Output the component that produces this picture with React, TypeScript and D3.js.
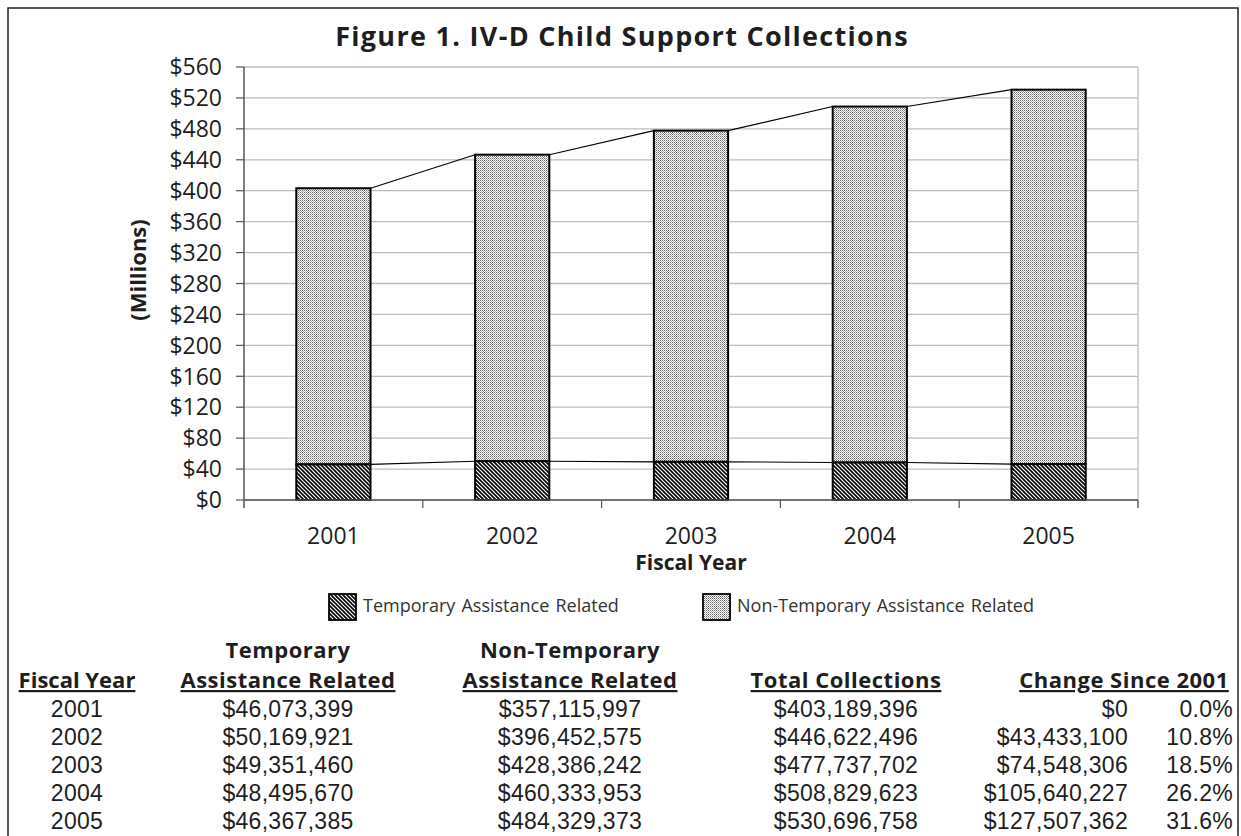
import React from "react";
import * as d3 from "d3";

const years = ["2001", "2002", "2003", "2004", "2005"];
const temporary = [46073399, 50169921, 49351460, 48495670, 46367385];
const nonTemporary = [357115997, 396452575, 428386242, 460333953, 484329373];
const totals = [403189396, 446622496, 477737702, 508829623, 530696758];
const changeAmounts = ["$0", "$43,433,100", "$74,548,306", "$105,640,227", "$127,507,362"];
const changePct = ["0.0%", "10.8%", "18.5%", "26.2%", "31.6%"];
const yTicks = d3.range(0, 561, 40);

const W = 1241;
const H = 836;
const margin = { top: 67, right: 103, bottom: 336, left: 244 };
const FONT = "'Open Sans', 'DejaVu Sans', sans-serif";
const TABLE_FONT = "'Liberation Sans', Arial, sans-serif";
const INK = "#1e1e1e";

export default function App() {
  const x = d3.scaleBand().domain(years).range([margin.left, W - margin.right]);
  const y = d3.scaleLinear().domain([0, 560]).range([H - margin.bottom, margin.top]);
  const barW = x.bandwidth() * 0.415;
  const bx = (yr: string) => (x(yr) as number) + (x.bandwidth() - barW) / 2;
  const m = (v: number) => v / 1e6;

  const fmt = d3.format("$,");
  const stacks = years.map((yr, i) => ({
    yr,
    t: m(temporary[i]),
    tot: m(temporary[i] + nonTemporary[i]),
  }));

  // excel style series lines joining the bar tops
  const seriesLines = (key: "t" | "tot") =>
    stacks.slice(0, -1).map((s, i) => {
      const n = stacks[i + 1];
      return (
        <line key={key + i} x1={bx(s.yr) + barW} y1={y(s[key])} x2={bx(n.yr)} y2={y(n[key])}
          stroke="#000" strokeWidth={1.1} />
      );
    });

  const rowBase = [717, 745, 773, 801, 829];
  const tx = { fy: 77, temp: 288, non: 570, tot: 846, chg: 1128, pct: 1233 };

  return (
    <svg width={W} height={H} style={{ position: "absolute", left: 0, top: 0, background: "#fff" }}
      fontFamily={FONT}>
      <defs>
        <pattern id="dots" width="2" height="2" patternUnits="userSpaceOnUse">
          <rect width="2" height="2" fill="#fff" />
          <rect width="1" height="1" fill="#666" />
          <rect x="1" y="1" width="1" height="1" fill="#aaa" />
        </pattern>
        <pattern id="hatch" width="4" height="4" patternUnits="userSpaceOnUse">
          <rect width="4" height="4" fill="#fff" />
          <path d="M-1,-1 L5,5 M-1,3 L1,5 M3,-1 L5,1" stroke="#000" strokeWidth="1.6" />
        </pattern>
      </defs>
      <rect x={8} y={8} width={1230} height={900} fill="none" stroke="#222" strokeWidth={1.5} />

      <text x={622} y={46} textAnchor="middle" fontWeight="bold" fontSize={27} fill={INK} letterSpacing={1.3}>
        Figure 1. IV-D Child Support Collections
      </text>

      {/* grid */}
      {yTicks.map((t) => (
        <line key={t} x1={margin.left} x2={W - margin.right} y1={y(t)} y2={y(t)} stroke="#bdbdbd" strokeWidth={1.3} />
      ))}
      <line x1={W - margin.right} x2={W - margin.right} y1={y(560)} y2={y(0) + 8} stroke="#bdbdbd" strokeWidth={1.3} />

      {/* bars */}
      {stacks.map((s) => (
        <g key={s.yr}>
          <rect x={bx(s.yr)} y={y(s.tot)} width={barW} height={y(s.t) - y(s.tot)} fill="url(#dots)" stroke="#000" strokeWidth={2} />
          <rect x={bx(s.yr)} y={y(s.t)} width={barW} height={y(0) - y(s.t)} fill="url(#hatch)" stroke="#000" strokeWidth={2} />
        </g>
      ))}
      {seriesLines("t")}
      {seriesLines("tot")}

      {/* axes */}
      <line x1={margin.left} x2={margin.left} y1={y(560)} y2={y(0) + 8} stroke="#555" strokeWidth={1.5} />
      <line x1={margin.left} x2={W - margin.right} y1={y(0)} y2={y(0)} stroke="#555" strokeWidth={1.5} />
      {yTicks.map((t) => (
        <g key={"yt" + t}>
          <line x1={margin.left - 8} x2={margin.left} y1={y(t)} y2={y(t)} stroke="#555" strokeWidth={1.2} />
          <text x={222} y={y(t)} dy="0.36em" textAnchor="end" fontSize={23} fill={INK}>
            {"$" + t}
          </text>
        </g>
      ))}
      {years.map((yr) => (
        <line key={"xt" + yr} x1={(x(yr) as number) + x.bandwidth()} x2={(x(yr) as number) + x.bandwidth()}
          y1={y(0)} y2={y(0) + 8} stroke="#555" strokeWidth={1.2} />
      ))}
      {years.map((yr) => (
        <text key={"xl" + yr} x={(x(yr) as number) + x.bandwidth() / 2} y={544} textAnchor="middle" fontSize={23} fill={INK}>
          {yr}
        </text>
      ))}
      <text x={691} y={570} textAnchor="middle" fontWeight="bold" fontSize={21} fill={INK}>Fiscal Year</text>
      <text transform="translate(146,270) rotate(-90)" textAnchor="middle" fontWeight="bold" fontSize={22} fill={INK}>
        (Millions)
      </text>

      {/* legend */}
      <rect x={329} y={594} width={27} height={26} fill="url(#hatch)" stroke="#000" strokeWidth={1.8} />
      <text x={363} y={612} fontSize={18} fill="#333" wordSpacing={1.5}>Temporary Assistance Related</text>
      <rect x={703} y={594} width={27} height={26} fill="url(#dots)" stroke="#000" strokeWidth={1.8} />
      <text x={737} y={612} fontSize={18} fill="#333" wordSpacing={1.5}>Non-Temporary Assistance Related</text>

      {/* table */}
      <g fontWeight="bold" fontSize={22} fill={INK} textAnchor="middle" letterSpacing={0.5}>
        <text x={tx.temp} y={658}>Temporary</text>
        <text x={tx.non} y={658}>Non-Temporary</text>
        <text x={tx.fy} y={688} textDecoration="underline" letterSpacing={0}>Fiscal Year</text>
        <text x={tx.temp} y={688} textDecoration="underline">Assistance Related</text>
        <text x={tx.non} y={688} textDecoration="underline">Assistance Related</text>
        <text x={tx.tot} y={688} textDecoration="underline">Total Collections</text>
        <text x={1124} y={688} textDecoration="underline">Change Since 2001</text>
      </g>
      <g fontSize={23} fill={INK} fontFamily={TABLE_FONT} letterSpacing={0.3}>
        {years.map((yr, i) => (
          <g key={"row" + yr}>
            <text x={tx.fy} y={rowBase[i]} textAnchor="middle">{yr}</text>
            <text x={tx.temp} y={rowBase[i]} textAnchor="middle">{fmt(temporary[i])}</text>
            <text x={tx.non} y={rowBase[i]} textAnchor="middle">{fmt(nonTemporary[i])}</text>
            <text x={tx.tot} y={rowBase[i]} textAnchor="middle">{fmt(totals[i])}</text>
            <text x={tx.chg} y={rowBase[i]} textAnchor="end">{changeAmounts[i]}</text>
            <text x={tx.pct} y={rowBase[i]} textAnchor="end">{changePct[i]}</text>
          </g>
        ))}
      </g>
    </svg>
  );
}
